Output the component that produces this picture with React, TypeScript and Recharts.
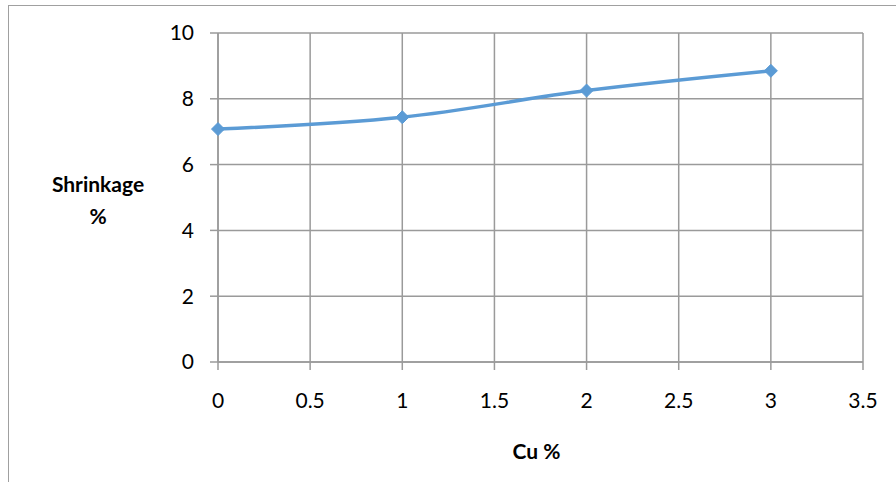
import { CartesianGrid, Line, LineChart, XAxis, YAxis } from 'recharts';

const cuPercent = [0, 1, 2, 3];
const shrinkage = [7.08, 7.44, 8.25, 8.85];
const xTicks = [0, 0.5, 1, 1.5, 2, 2.5, 3, 3.5];
const yTicks = [0, 2, 4, 6, 8, 10];

const data = cuPercent.map((cu, i) => ({ cu, shrinkage: shrinkage[i] }));

const FONT = 'Lato, "Open Sans", sans-serif';
const GRID = '#9a9a9a';
const LINE = '#5b9bd5';

const Diamond = (props: any) => {
  const { cx, cy } = props;
  if (cx == null || cy == null) return null;
  const r = 6.5;
  return (
    <path
      d={`M${cx},${cy - r}L${cx + r},${cy}L${cx},${cy + r}L${cx - r},${cy}Z`}
      fill={LINE}
      stroke={LINE}
    />
  );
};

export default function App() {
  return (
    <div style={{ position: 'fixed', left: 0, top: 0, width: 896, height: 482, background: '#fff', overflow: 'hidden' }}>
      <div
        style={{
          position: 'absolute',
          left: 8,
          top: 5,
          width: 900,
          height: 500,
          border: '1.5px solid #a0a0a0',
          boxSizing: 'border-box',
        }}
      />
      <div style={{ position: 'absolute', left: 0, top: 0 }}>
        <LineChart width={896} height={482} data={data} margin={{ top: 33, right: 33, left: 0, bottom: 0 }}>
          <CartesianGrid stroke={GRID} strokeWidth={1.5} horizontalValues={yTicks} verticalValues={xTicks} />
          <XAxis
            dataKey="cu"
            type="number"
            domain={[0, 3.5]}
            ticks={xTicks}
            height={120}
            stroke={GRID}
            strokeWidth={1.5}
            tickSize={8}
            tickMargin={23}
            tick={{ fill: '#000', fontSize: 21, fontFamily: FONT }}
            label={(p: any) => {
              const vb = p.viewBox;
              return (
                <text
                  x={vb.x + vb.width / 2 - 4}
                  y={459}
                  textAnchor="middle"
                  fontFamily={FONT}
                  fontWeight={700}
                  fontSize={21}
                  fill="#000"
                >
                  Cu %
                </text>
              );
            }}
          />
          <YAxis
            type="number"
            domain={[0, 10]}
            ticks={yTicks}
            width={218}
            stroke={GRID}
            strokeWidth={1.5}
            tickSize={8}
            tickMargin={16}
            tick={{ fill: '#000', fontSize: 21, fontFamily: FONT }}
            label={() => (
              <g>
                <text x={98} y={192} textAnchor="middle" fontFamily={FONT} fontWeight={700} fontSize={21} fill="#000">
                  Shrinkage
                </text>
                <text x={98} y={224} textAnchor="middle" fontFamily={FONT} fontWeight={700} fontSize={21} fill="#000">
                  %
                </text>
              </g>
            )}
          />
          <Line
            type="monotone"
            dataKey="shrinkage"
            stroke={LINE}
            strokeWidth={3.5}
            dot={<Diamond />}
            activeDot={false}
            isAnimationActive={false}
          />
        </LineChart>
      </div>
    </div>
  );
}
